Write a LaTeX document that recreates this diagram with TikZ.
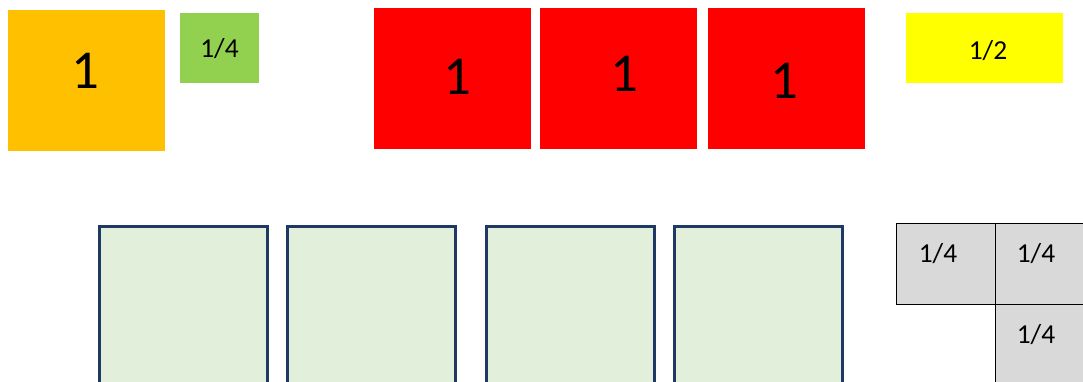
\documentclass[tikz,border=0pt]{standalone}
\usepackage{fontspec}
\setmainfont{Carlito}
\definecolor{wholeorange}{HTML}{FFC000}
\definecolor{wholered}{HTML}{FF0000}
\definecolor{quartergreen}{HTML}{92D050}
\definecolor{halfyellow}{HTML}{FFFF00}
\definecolor{emptygreen}{HTML}{E2EFDA}
\definecolor{emptyframe}{HTML}{1F3864}
\definecolor{quartergray}{HTML}{D9D9D9}
\begin{document}
\begin{tikzpicture}[x=0.025cm, y=-0.025cm,
  tile/.style={rectangle, inner sep=0pt, outer sep=0pt},
  whole/.style={tile, minimum width=3.925cm, minimum height=3.525cm},
  quarter/.style={tile, fill=quartergreen, minimum width=1.975cm, minimum height=1.75cm},
  half/.style={tile, fill=halfyellow, minimum width=3.925cm, minimum height=1.75cm},
  slot/.style={tile, draw=emptyframe, line width=2.5pt, fill=emptygreen,
    minimum width=4.2cm, minimum height=4.2cm},
  piece/.style={tile, draw=black, line width=1pt, fill=quartergray,
    minimum width=2.475cm, minimum height=2.025cm},
  bignum/.style={font=\fontsize{39}{40}\selectfont, inner sep=0pt},
  frac/.style={font=\fontsize{19.5}{20}\selectfont, inner sep=0pt},
]
\clip (0,0) rectangle (1083,381);

% Top row
\node[whole, fill=wholeorange] (orange) at (86.5, 80.5) {};
\node[bignum] (orangetxt) at (85.5, 71) {1};
\node[quarter] (green) at (219.5, 48) {};
\node[frac] (greentxt) at (219.5, 48.5) {1/4};

\node[whole, fill=wholered] (red1) at (452.5, 78.5) {};
\node[whole, fill=wholered] (red2) at (618.5, 78.5) {};
\node[whole, fill=wholered] (red3) at (786.5, 78.5) {};
\node[bignum] (red1txt) at (457, 77) {1};
\node[bignum] (red2txt) at (624, 74) {1};
\node[bignum] (red3txt) at (784, 80.5) {1};

\node[half] (yellow) at (984.5, 48) {};
\node[frac] (yellowtxt) at (988, 51) {1/2};

% Bottom row
\node[slot] (slot1) at (183.5, 310.5) {};
\node[slot] (slot2) at (371.5, 310.5) {};
\node[slot] (slot3) at (570.5, 310.5) {};
\node[slot] (slot4) at (758.5, 310.5) {};

\node[piece] (gray1) at (946, 264) {};
\node[piece] (gray2) at (1045, 264) {};
\node[piece] (gray3) at (1045, 345) {};
\node[frac] (gray1txt) at (938, 254) {1/4};
\node[frac] (gray2txt) at (1036, 254) {1/4};
\node[frac] (gray3txt) at (1036, 335) {1/4};

\end{tikzpicture}
\end{document}
